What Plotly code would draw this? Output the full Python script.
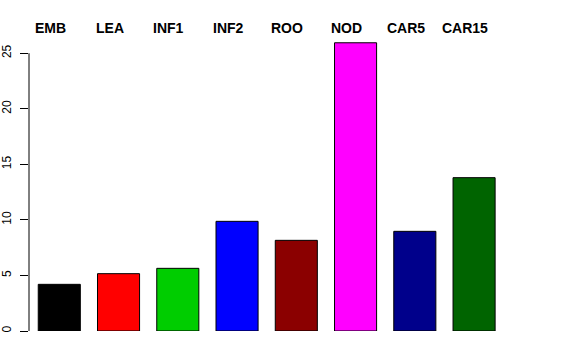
import plotly.graph_objects as go

categories = ["EMB", "LEA", "INF1", "INF2", "ROO", "NOD", "CAR5", "CAR15"]
values = [4.2, 5.16, 5.64, 9.87, 8.16, 25.94, 8.97, 13.8]
colors = ["#000000", "#FF0000", "#00CD00", "#0000FF", "#8B0000", "#FF00FF", "#00008B", "#006400"]
y_ticks = [0, 5, 10, 15, 20, 25]

positions = list(range(len(categories)))

fig = go.Figure()
fig.add_trace(go.Bar(
    x=positions,
    y=values,
    width=0.71,
    marker=dict(color=colors, line=dict(color="#000000", width=1)),
    hoverinfo="skip",
))

for i, name in enumerate(categories):
    fig.add_annotation(
        x=i - 0.15, y=1, xref="x", yref="paper",
        yshift=8, yanchor="middle", xanchor="center",
        text="<b>%s</b>" % name, showarrow=False,
        font=dict(size=14, color="#000000", family="Liberation Sans, Arial, sans-serif"),
    )

fig.add_shape(type="line", xref="paper", yref="y", x0=0, x1=0,
              y0=y_ticks[0], y1=y_ticks[-1], line=dict(color="#000000", width=1))

fig.update_layout(
    width=576, height=360,
    margin=dict(l=29, r=72, t=36, b=29, autoexpand=False),
    plot_bgcolor="white", paper_bgcolor="white",
    showlegend=False,
    font=dict(family="Liberation Sans, Arial, sans-serif", color="#000000"),
    xaxis=dict(visible=False, range=[-0.511, 7.505], automargin=False),
    yaxis=dict(
        range=[0, 26.55],
        automargin=False,
        tickvals=y_ticks,
        ticktext=[str(v) for v in y_ticks],
        tickangle=-90,
        ticks="outside", ticklen=8, tickcolor="#000000", tickwidth=1,
        tickfont=dict(size=12, color="#000000"),
        ticklabelstandoff=4,
        showgrid=False, zeroline=False, showline=False,
    ),
)

fig.write_html("out.html", config={"displayModeBar": False},
               post_script="document.body.style.margin='0';")
